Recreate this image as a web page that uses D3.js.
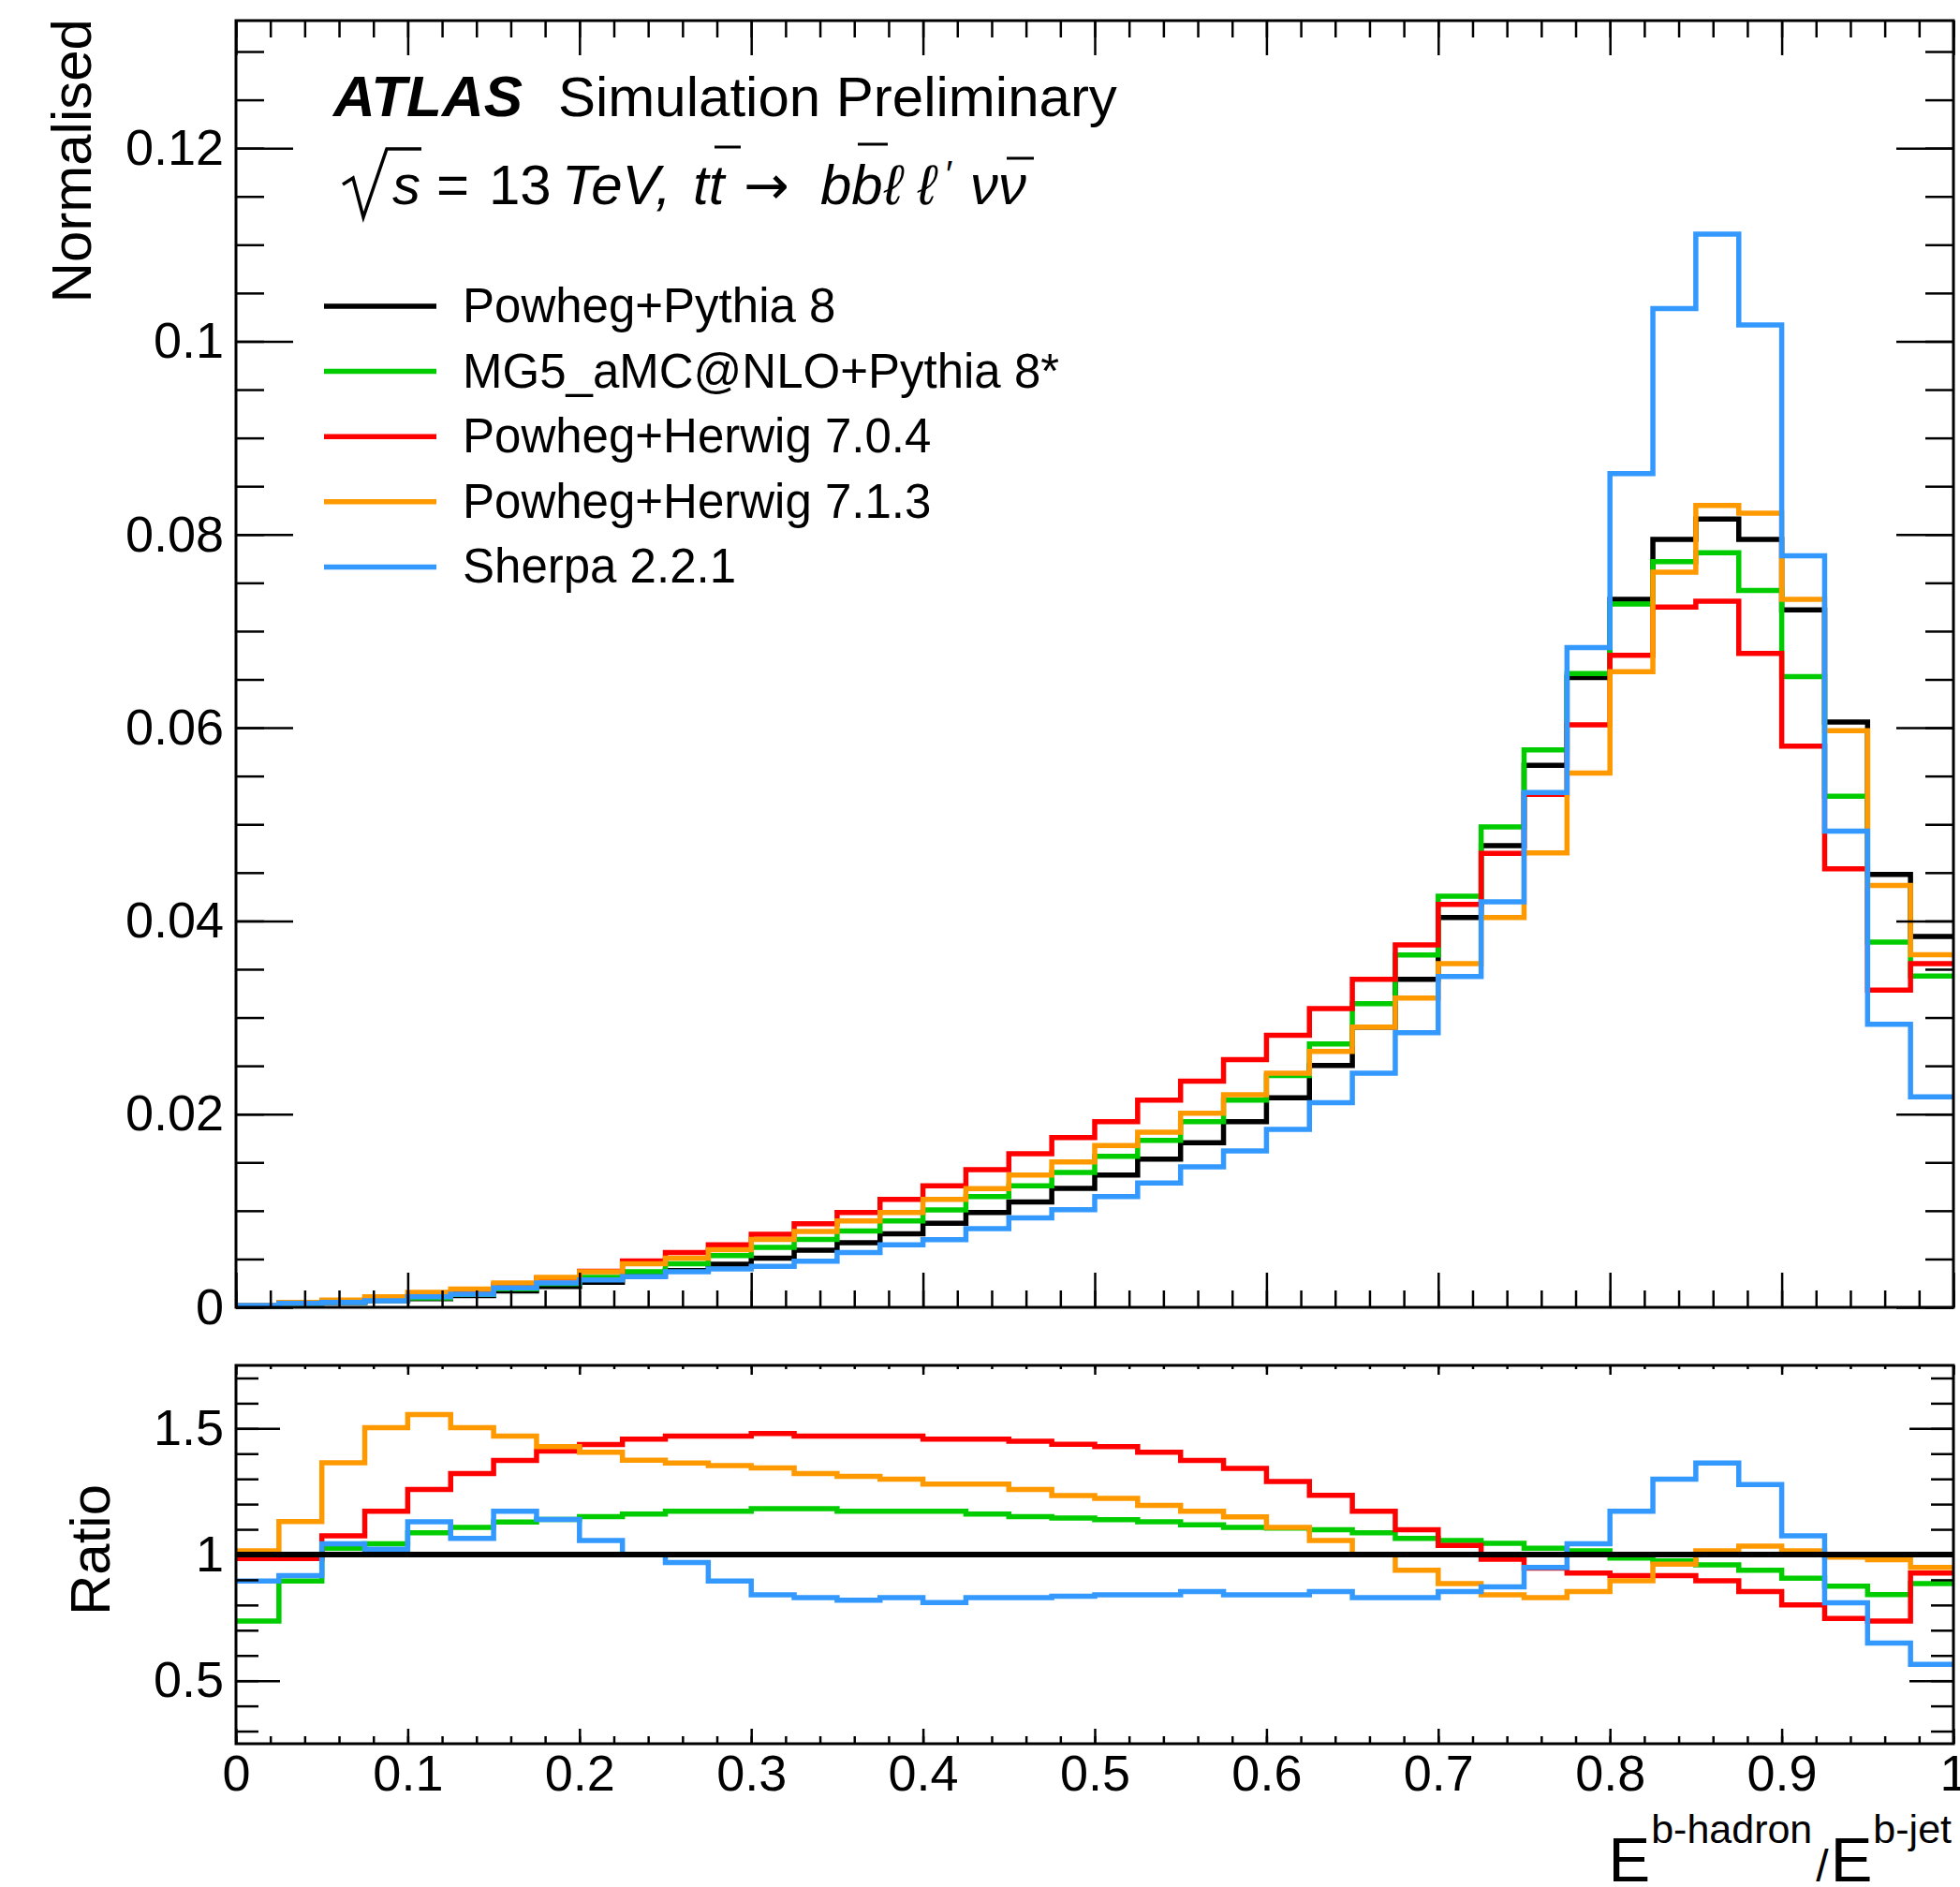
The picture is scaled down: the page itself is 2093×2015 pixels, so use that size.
<!DOCTYPE html>
<html>
<head>
<meta charset="utf-8">
<script src="https://cdn.jsdelivr.net/npm/d3@7"></script>
<style>
  body { margin: 0; background: #ffffff; }
  svg { display: block; background: #ffffff; }
</style>
</head>
<body>
<svg id="chart" width="2093" height="2015"></svg>
<script>
// 40 bins of width 0.025 between 0 and 1
const binEdges = d3.range(41).map((i) => i / 40);

const legendLabels = ['Powheg+Pythia 8', 'MG5_aMC@NLO+Pythia 8*', 'Powheg+Herwig 7.0.4', 'Powheg+Herwig 7.1.3', 'Sherpa 2.2.1'];
const colors = ['#000000', '#00cc00', '#ff0000', '#ff9900', '#3399ff'];

// normalised distributions (upper panel)
const powhegPythia = [0.00021, 0.00046, 0.00052, 0.00070, 0.00090, 0.00120, 0.00170, 0.00215, 0.00260, 0.00325,
  0.00380, 0.00445, 0.00510, 0.00592, 0.00670, 0.00760, 0.00869, 0.00982, 0.01090, 0.01231,
  0.01370, 0.01535, 0.01703, 0.01923, 0.02170, 0.02504, 0.02900, 0.03396, 0.04036, 0.04780,
  0.05610, 0.06520, 0.07330, 0.07950, 0.08160, 0.07950, 0.07220, 0.06060, 0.04480, 0.03840];
const mg5Pythia = [0.00015, 0.00041, 0.00053, 0.00073, 0.00098, 0.00133, 0.00192, 0.00245, 0.00310, 0.00368,
  0.00452, 0.00536, 0.00620, 0.00704, 0.00789, 0.00895, 0.01008, 0.01147, 0.01257, 0.01396,
  0.01564, 0.01729, 0.01923, 0.02146, 0.02400, 0.02727, 0.03144, 0.03648, 0.04256, 0.04973,
  0.05770, 0.06560, 0.07280, 0.07720, 0.07810, 0.07420, 0.06530, 0.05290, 0.03780, 0.03430];
const herwig704 = [0.00021, 0.00045, 0.00056, 0.00082, 0.00113, 0.00158, 0.00233, 0.00304, 0.00374, 0.00480,
  0.00566, 0.00646, 0.00756, 0.00866, 0.00982, 0.01118, 0.01257, 0.01425, 0.01590, 0.01758,
  0.01923, 0.02146, 0.02340, 0.02563, 0.02815, 0.03093, 0.03396, 0.03752, 0.04172, 0.04699,
  0.05310, 0.06030, 0.06750, 0.07250, 0.07310, 0.06770, 0.05810, 0.04540, 0.03285, 0.03557];
const herwig713 = [0.00021, 0.00052, 0.00074, 0.00110, 0.00155, 0.00190, 0.00252, 0.00310, 0.00368, 0.00450,
  0.00508, 0.00595, 0.00704, 0.00785, 0.00895, 0.00982, 0.01118, 0.01228, 0.01370, 0.01506,
  0.01674, 0.01813, 0.02010, 0.02201, 0.02424, 0.02650, 0.02900, 0.03202, 0.03558, 0.04036,
  0.04705, 0.05530, 0.06580, 0.07610, 0.08300, 0.08220, 0.07330, 0.05970, 0.04368, 0.03651];
const sherpa = [0.00019, 0.00042, 0.00050, 0.00068, 0.00110, 0.00135, 0.00200, 0.00252, 0.00284, 0.00318,
  0.00368, 0.00397, 0.00423, 0.00478, 0.00566, 0.00646, 0.00701, 0.00814, 0.00926, 0.01011,
  0.01147, 0.01286, 0.01454, 0.01619, 0.01841, 0.02118, 0.02424, 0.02844, 0.03425, 0.04198,
  0.05330, 0.06830, 0.08630, 0.10340, 0.11110, 0.10170, 0.07780, 0.04930, 0.02930, 0.02180];

// ratio to Powheg+Pythia 8 (lower panel)
const ratioPythia = [1, 1, 1, 1, 1, 1, 1, 1, 1, 1, 1, 1, 1, 1, 1, 1, 1, 1, 1, 1,
  1, 1, 1, 1, 1, 1, 1, 1, 1, 1, 1, 1, 1, 1, 1, 1, 1, 1, 1, 1];
const ratioMG5 = [0.736, 0.895, 1.025, 1.043, 1.086, 1.108, 1.129, 1.139, 1.150, 1.161,
  1.172, 1.172, 1.182, 1.182, 1.172, 1.172, 1.172, 1.161, 1.150, 1.145,
  1.138, 1.130, 1.118, 1.108, 1.105, 1.098, 1.086, 1.064, 1.056, 1.045,
  1.025, 1.015, 0.986, 0.975, 0.959, 0.938, 0.906, 0.875, 0.841, 0.885];
const ratioHerwig704 = [0.984, 0.984, 1.074, 1.172, 1.258, 1.321, 1.373, 1.410, 1.436, 1.458,
  1.470, 1.470, 1.480, 1.470, 1.470, 1.470, 1.458, 1.458, 1.449, 1.437,
  1.428, 1.406, 1.373, 1.342, 1.290, 1.235, 1.172, 1.098, 1.036, 0.981,
  0.946, 0.927, 0.916, 0.916, 0.896, 0.853, 0.800, 0.747, 0.736, 0.927];
const ratioHerwig713 = [1.015, 1.131, 1.364, 1.503, 1.555, 1.503, 1.470, 1.428, 1.406, 1.374,
  1.363, 1.353, 1.343, 1.321, 1.310, 1.299, 1.279, 1.279, 1.258, 1.234,
  1.223, 1.195, 1.172, 1.149, 1.108, 1.056, 1.000, 0.938, 0.885, 0.840,
  0.829, 0.853, 0.896, 0.962, 1.015, 1.033, 1.015, 0.990, 0.980, 0.949];
const ratioSherpa = [0.895, 0.916, 1.043, 1.021, 1.130, 1.064, 1.172, 1.139, 1.056, 1.000,
  0.968, 0.895, 0.840, 0.829, 0.819, 0.829, 0.810, 0.829, 0.829, 0.835,
  0.840, 0.840, 0.853, 0.840, 0.840, 0.853, 0.829, 0.829, 0.853, 0.872,
  0.949, 1.043, 1.172, 1.299, 1.363, 1.278, 1.074, 0.809, 0.649, 0.565];

const mainSeries = [powhegPythia, mg5Pythia, herwig704, herwig713, sherpa];
const ratioSeries = [ratioPythia, ratioMG5, ratioHerwig704, ratioHerwig713, ratioSherpa];

const xMajor = [0, 0.1, 0.2, 0.3, 0.4, 0.5, 0.6, 0.7, 0.8, 0.9, 1];
const yMajor = [0, 0.02, 0.04, 0.06, 0.08, 0.1, 0.12];
const ratioMajor = [0.5, 1, 1.5];

const font = "'Liberation Sans', Arial, Helvetica, sans-serif";
const svg = d3.select('#chart');

const left = 252;
const right = 2086;
const topPanel = { top: 22, bottom: 1396 };
const ratioPanel = { top: 1458, bottom: 1862 };

const x = d3.scaleLinear().domain([0, 1]).range([left, right]);
const y = d3.scaleLinear().domain([0, 0.1332]).range([topPanel.bottom, topPanel.top]);
const yr = d3.scaleLinear().domain([0.25, 1.75]).range([ratioPanel.bottom, ratioPanel.top]);

const xMinor = d3.range(51).map((i) => i / 50);
const yMinor = d3.range(27).map((i) => i * 0.005);
const ratioMinor = d3.range(3, 18).map((i) => i / 10);

const fmt = (d) => String(+d.toFixed(3));

const defs = svg.append('defs');
[['clipTop', topPanel], ['clipRatio', ratioPanel]].forEach(([id, p]) => {
  defs.append('clipPath').attr('id', id)
    .append('rect')
    .attr('x', left)
    .attr('y', p.top)
    .attr('width', right - left)
    .attr('height', p.bottom - p.top);
});

function stepPath(scaleY, values) {
  const pts = values.map((v, i) => [binEdges[i], v]);
  pts.push([binEdges[values.length], values[values.length - 1]]);
  return d3.line()
    .x((d) => x(d[0]))
    .y((d) => scaleY(d[1]))
    .curve(d3.curveStepAfter)(pts);
}

function styleAxis(g, width) {
  g.select('.domain').remove();
  g.selectAll('line').attr('stroke', '#000').attr('stroke-width', width);
  g.attr('font-family', font).attr('font-size', 54);
  g.selectAll('text').attr('fill', '#000');
}

function drawAxes(p, scaleY, yMaj, yMin, yFmt, tk) {
  // x axis, bottom and top
  svg.append('g').attr('transform', `translate(0,${p.bottom})`)
    .call(d3.axisBottom(x).tickValues(xMinor).tickSize(-tk.xMinB).tickFormat(''))
    .call(styleAxis, 2.5);
  svg.append('g').attr('transform', `translate(0,${p.bottom})`)
    .call(d3.axisBottom(x).tickValues(xMajor).tickSize(-tk.xMajB).tickPadding(12)
      .tickFormat(tk.xLabels ? fmt : ''))
    .call(styleAxis, 2.5);
  svg.append('g').attr('transform', `translate(0,${p.top})`)
    .call(d3.axisTop(x).tickValues(xMinor).tickSize(-tk.xMinT).tickFormat(''))
    .call(styleAxis, 2.5);
  svg.append('g').attr('transform', `translate(0,${p.top})`)
    .call(d3.axisTop(x).tickValues(xMajor).tickSize(-tk.xMajT).tickFormat(''))
    .call(styleAxis, 2.5);
  // y axis, left and right
  svg.append('g').attr('transform', `translate(${left},0)`)
    .call(d3.axisLeft(scaleY).tickValues(yMin).tickSize(-tk.yMin).tickFormat(''))
    .call(styleAxis, 2.5);
  svg.append('g').attr('transform', `translate(${left},0)`)
    .call(d3.axisLeft(scaleY).tickValues(yMaj).tickSize(-tk.yMaj).tickPadding(13).tickFormat(yFmt))
    .call(styleAxis, 2.5);
  svg.append('g').attr('transform', `translate(${right},0)`)
    .call(d3.axisRight(scaleY).tickValues(yMin).tickSize(-tk.yMin).tickFormat(''))
    .call(styleAxis, 2.5);
  svg.append('g').attr('transform', `translate(${right},0)`)
    .call(d3.axisRight(scaleY).tickValues(yMaj).tickSize(-tk.yMaj).tickFormat(''))
    .call(styleAxis, 2.5);
  svg.append('rect')
    .attr('x', left).attr('y', p.top)
    .attr('width', right - left).attr('height', p.bottom - p.top)
    .attr('fill', 'none').attr('stroke', '#000').attr('stroke-width', 3);
}

// upper panel histograms
svg.append('g').attr('clip-path', 'url(#clipTop)')
  .selectAll('path')
  .data(mainSeries)
  .enter()
  .append('path')
  .attr('d', (d) => stepPath(y, d))
  .attr('fill', 'none')
  .attr('stroke', (d, i) => colors[i])
  .attr('stroke-width', 5.5);

drawAxes(topPanel, y, yMajor, yMinor, fmt,
  { xMajB: 37, xMinB: 18, xMajT: 37, xMinT: 18, yMaj: 61, yMin: 30, xLabels: false });

// ratio panel (reference line drawn last)
const ratioOrder = [1, 2, 3, 4, 0];
svg.append('g').attr('clip-path', 'url(#clipRatio)')
  .selectAll('path')
  .data(ratioOrder)
  .enter()
  .append('path')
  .attr('d', (i) => stepPath(yr, ratioSeries[i]))
  .attr('fill', 'none')
  .attr('stroke', (i) => colors[i])
  .attr('stroke-width', (i) => (i === 0 ? 6 : 5.5));

drawAxes(ratioPanel, yr, ratioMajor, ratioMinor, fmt,
  { xMajB: 16, xMinB: 8, xMajT: 10, xMinT: 4, yMaj: 47, yMin: 24, xLabels: true });

// axis titles
svg.append('text')
  .attr('transform', 'translate(97,20) rotate(-90)')
  .attr('text-anchor', 'end')
  .attr('font-family', font)
  .attr('font-size', 60)
  .text('Normalised');

svg.append('text')
  .attr('transform', 'translate(117,1655) rotate(-90)')
  .attr('text-anchor', 'middle')
  .attr('font-family', font)
  .attr('font-size', 60)
  .text('Ratio');

const xTitle = svg.append('text')
  .attr('x', right - 2)
  .attr('y', 2009)
  .attr('text-anchor', 'end')
  .attr('font-family', font)
  .attr('font-size', 67);
xTitle.append('tspan').text('E');
xTitle.append('tspan').attr('font-size', 43).attr('dy', -41).attr('dx', 1).text('b-hadron');
xTitle.append('tspan').attr('font-size', 48).attr('dy', 41).attr('dx', 4).text('/');
xTitle.append('tspan').attr('dx', 2).text('E');
xTitle.append('tspan').attr('font-size', 43).attr('dy', -41).attr('dx', 1).text('b-jet');

// ATLAS label
svg.append('text')
  .attr('x', 356).attr('y', 124)
  .attr('font-family', font)
  .attr('font-size', 62)
  .attr('font-weight', 'bold')
  .attr('font-style', 'italic')
  .text('ATLAS');
svg.append('text')
  .attr('x', 596).attr('y', 124)
  .attr('font-family', font)
  .attr('font-size', 60)
  .text('Simulation Preliminary');

// sqrt(s) line
const procPieces = [
  { t: 's', x: 419, it: true },
  { t: '=', x: 466 },
  { t: '13', x: 522 },
  { t: 'TeV,', x: 600, it: true },
  { t: 'tt', x: 740, it: true },
  { t: '\u2192', x: 794, fam: "'DejaVu Sans', sans-serif", size: 58 },
  { t: 'bb', x: 876, it: true },
  { t: '\u2113', x: 944, it: true },
  { t: '\u2113', x: 980, it: true },
  { t: '\u2032', x: 1010, size: 40, dy: -18 },
  { t: '\u03bd\u03bd', x: 1036, it: true }
];
const proc = svg.append('text')
  .attr('y', 218)
  .attr('font-family', font)
  .attr('font-size', 60);
procPieces.forEach((p) => {
  const s = proc.append('tspan')
    .attr('x', p.x)
    .attr('y', 218 + (p.dy || 0))
    .text(p.t);
  if (p.it) s.attr('font-style', 'italic');
  if (p.size) s.attr('font-size', p.size);
  if (p.fam) s.attr('font-family', p.fam);
});
// radical sign and overbars
svg.append('path')
  .attr('d', 'M366,197 L377,190 L388,232 L413,159 L450,159')
  .attr('fill', 'none').attr('stroke', '#000').attr('stroke-width', 3.5);
[[763, 791, 157], [916, 948, 154], [1075, 1104, 169]].forEach(([a, b, yy]) => {
  svg.append('line')
    .attr('x1', a).attr('x2', b).attr('y1', yy).attr('y2', yy)
    .attr('stroke', '#000').attr('stroke-width', 3);
});

// legend
const legend = svg.append('g')
  .selectAll('g')
  .data(legendLabels)
  .enter()
  .append('g')
  .attr('transform', (d, i) => `translate(0,${327 + i * 69.6})`);
legend.append('line')
  .attr('x1', 346).attr('x2', 466)
  .attr('y1', 0).attr('y2', 0)
  .attr('stroke', (d, i) => colors[i])
  .attr('stroke-width', 5.5);
legend.append('text')
  .attr('x', 494).attr('y', 17)
  .attr('font-family', font)
  .attr('font-size', 51)
  .text((d) => d);
</script>
</body>
</html>
